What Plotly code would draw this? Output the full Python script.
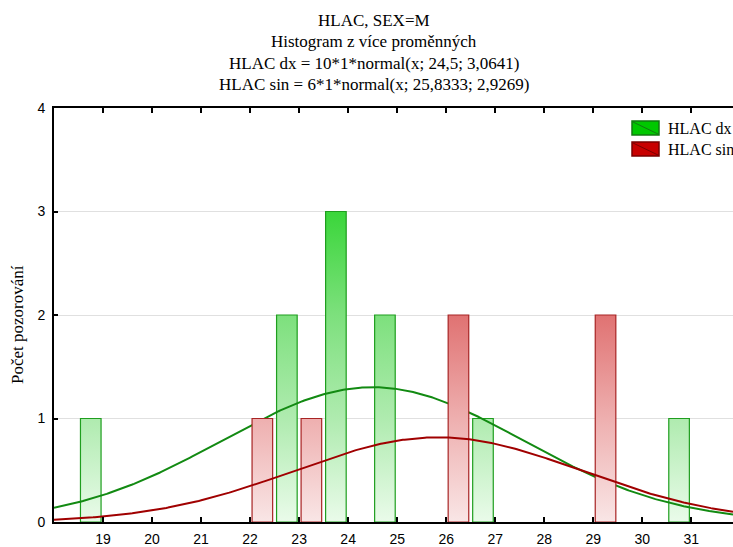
import numpy as np
import plotly.graph_objects as go

# ---------------- data ----------------
dx_bins = [19, 23, 24, 25, 27, 31]
dx_counts = [1, 2, 3, 2, 1, 1]
sin_bins = [22, 23, 26, 29]
sin_counts = [1, 1, 2, 2]

dx_n, dx_mean, dx_sd = 10, 24.5, 3.0641
sin_n, sin_mean, sin_sd = 6, 25.8333, 2.9269

x_ticks = list(range(19, 32))
y_ticks = [0, 1, 2, 3, 4]

title_lines = [
    "HLAC, SEX=M",
    "Histogram z více proměnných",
    "HLAC dx = 10*1*normal(x; 24,5; 3,0641)",
    "HLAC sin = 6*1*normal(x; 25,8333; 2,9269)",
]
series_names = ["HLAC dx", "HLAC sin"]
y_title = "Počet pozorování"

# ---------------- layout geometry ----------------
W, H = 733, 547
L, R, T, B = 54, 733, 108, 522
XR = [18.0, 31.85]
bar_w = 0.42
offs = {"dx": -0.25, "sin": 0.25}


def px(xp):
    return (xp - L) / (R - L)


def py(yp):
    return (B - yp) / (B - T)


def bar_polys(bins, counts, off):
    xs, ys = [], []
    for b, c in zip(bins, counts):
        l = b + off - bar_w / 2
        r = b + off + bar_w / 2
        xs += [l, l, r, r, l, None]
        ys += [0, c, c, 0, 0, None]
    return xs, ys


def normal_curve(n, mu, sd, xs):
    return n * np.exp(-0.5 * ((xs - mu) / sd) ** 2) / (sd * np.sqrt(2 * np.pi))


xs_curve = np.linspace(XR[0], XR[1], 400)

fig = go.Figure()

# green bars
gx, gy = bar_polys(dx_bins, dx_counts, offs["dx"])
fig.add_trace(go.Scatter(
    x=gx, y=gy, mode="lines", fill="toself", name=series_names[0],
    line=dict(color="#1f9e1f", width=1.2),
    fillgradient=dict(type="vertical", start=0, stop=3,
                      colorscale=[[0, "#eafbea"], [0.333, "#afebaf"],
                                  [0.667, "#7de07d"], [1, "#3ad63a"]]),
    showlegend=False, hoverinfo="skip"))
# green curve
fig.add_trace(go.Scatter(
    x=xs_curve, y=normal_curve(dx_n, dx_mean, dx_sd, xs_curve), mode="lines",
    line=dict(color="#128a12", width=2), showlegend=False))
# red bars
rx, ry = bar_polys(sin_bins, sin_counts, offs["sin"])
fig.add_trace(go.Scatter(
    x=rx, y=ry, mode="lines", fill="toself", name=series_names[1],
    line=dict(color="#a82424", width=1.2),
    fillgradient=dict(type="vertical", start=0, stop=2,
                      colorscale=[[0, "#f9e6e6"], [0.5, "#eeafaf"],
                                  [1, "#e07272"]]),
    showlegend=False, hoverinfo="skip"))
# red curve
fig.add_trace(go.Scatter(
    x=xs_curve, y=normal_curve(sin_n, sin_mean, sin_sd, xs_curve), mode="lines",
    line=dict(color="#a00000", width=2), showlegend=False))

serif = "Liberation Serif"
sans = "Liberation Sans"

annotations = []
for txt, yp in zip(title_lines, [21, 42, 64, 85]):
    annotations.append(dict(text=txt, x=px(374), y=py(yp), xref="paper", yref="paper",
                            xanchor="center", yanchor="middle", showarrow=False,
                            font=dict(family=serif, size=17, color="black")))
annotations.append(dict(text=y_title, x=px(17), y=py(325), xref="paper", yref="paper",
                        xanchor="center", yanchor="middle", showarrow=False, textangle=-90,
                        font=dict(family=serif, size=17, color="black")))

shapes = []
legend_items = [
    (series_names[0], "#00c800", "#127a12", 121, 135),
    (series_names[1], "#c80000", "#7a0000", 142, 156),
]
for name, fc, lc, y0, y1 in legend_items:
    shapes.append(dict(type="rect", xref="paper", yref="paper",
                       x0=px(632), x1=px(659), y0=py(y1), y1=py(y0),
                       fillcolor=fc, line=dict(color=lc, width=1.5)))
    shapes.append(dict(type="line", xref="paper", yref="paper",
                       x0=px(633), x1=px(658), y0=py(y0 + 1), y1=py(y1 - 1),
                       line=dict(color=lc, width=1)))
    annotations.append(dict(text=name, x=px(666), y=py((y0 + y1) / 2), xref="paper",
                            yref="paper", xanchor="left", yanchor="middle", showarrow=False,
                            font=dict(family=serif, size=16, color="black")))

fig.update_layout(
    width=W, height=H,
    margin=dict(l=L, r=W - R, t=T, b=H - B),
    paper_bgcolor="white", plot_bgcolor="white",
    showlegend=False,
    annotations=annotations, shapes=shapes,
    xaxis=dict(range=XR, tickvals=x_ticks, ticks="inside", ticklen=5, tickwidth=1.5,
               tickcolor="black", showline=True, linecolor="black", linewidth=2,
               mirror="ticks", showgrid=False, zeroline=False, ticklabelstandoff=3,
               automargin=False,
               tickfont=dict(family=sans, size=14, color="black")),
    yaxis=dict(range=[0, 4], tickvals=y_ticks, ticks="inside", ticklen=4, tickwidth=1.5,
               tickcolor="black", showline=True, linecolor="black", linewidth=2,
               showgrid=True, gridcolor="#e0e0e0", gridwidth=1, zeroline=False,
               ticklabelstandoff=4, automargin=False,
               tickfont=dict(family=sans, size=14, color="black")),
)

fig.write_html("out.html", config={"displayModeBar": False},
               post_script="document.body.style.margin='0';document.body.style.padding='0';")
